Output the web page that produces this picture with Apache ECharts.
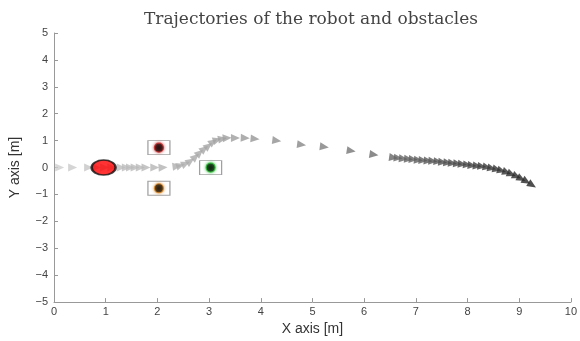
<!DOCTYPE html>
<html>
<head>
<meta charset="utf-8">
<script src="https://cdn.jsdelivr.net/npm/echarts@6/dist/echarts.min.js"></script>
<style>html,body{margin:0;padding:0;background:#fff}#c{width:580px;height:341px}</style>
</head>
<body>
<div id="c"></div>
<script>
const titleText = 'Trajectories of the robot and obstacles';
const xTicks = [0,1,2,3,4,5,6,7,8,9,10];
const yTicks = [-5,-4,-3,-2,-1,0,1,2,3,4,5];
// robot trajectory (x, y in metres)
const trajX = [0.11,0.36,0.67,0.82,0.98,1.12,1.30,1.40,1.48,1.57,1.67,1.78,1.95,2.11,2.38,2.45,2.55,2.64,2.74,2.82,2.91,2.99,3.08,3.16,3.26,3.35,3.51,3.70,3.89,4.31,4.79,5.23,5.75,6.19,
  6.57,6.66,6.76,6.86,6.95,7.05,7.14,7.24,7.33,7.43,7.52,7.62,7.71,7.81,7.90,8.00,8.09,8.19,8.28,8.38,8.47,8.57,8.66,8.76,8.85,8.95,9.04,9.14,9.25];
const trajY = [0,0,0,0,0,0,0,0,0,0,0,0,0,0,0.05,0.08,0.15,0.24,0.40,0.55,0.70,0.81,0.96,1.03,1.07,1.10,1.10,1.10,1.07,1.00,0.85,0.77,0.62,0.48,
  0.37,0.35,0.33,0.31,0.30,0.28,0.27,0.25,0.24,0.22,0.20,0.18,0.16,0.14,0.12,0.10,0.08,0.06,0.04,0.01,-0.03,-0.07,-0.12,-0.18,-0.25,-0.33,-0.42,-0.52,-0.65];
// robot position
const robotX = [0.96];
const robotY = [0];
// obstacles
const obsX = [2.03, 2.03, 3.03];
const obsY = [0.74, -0.77, 0];
const obsNames = ['obstacle 1', 'obstacle 2', 'obstacle 3'];

const chart = echarts.init(document.getElementById('c'), null, {renderer:'canvas'});
const trajData = trajX.map((x,i)=>[x, trajY[i]]);
const pxX = 52.2, pxY = 27.2;
function rot(i){
  const a = trajData[Math.max(0,i-1)], b = trajData[Math.min(trajData.length-1,i+1)];
  const ang = Math.atan2((b[1]-a[1])*pxY, (b[0]-a[0])*pxX)*180/Math.PI;
  return ang - 90;
}
const obsRing = ['#c83030', '#d98a2b', '#2fbf3a'];
const obsBoxData = obsX.map((x,i)=>({value:[x, obsY[i]], name: obsNames[i]}));
const obsDotData = obsX.map((x,i)=>({value:[x, obsY[i]], name: obsNames[i],
  itemStyle:{borderColor:obsRing[i], shadowColor:obsRing[i]}}));
const minus = v => String(v).replace('-', '\u2212');

chart.setOption({
  animation:false,
  title:{text:titleText,left:306,textAlign:'center',top:6,
    textStyle:{fontFamily:'DejaVu Serif',fontWeight:'normal',fontSize:17,color:'#444'}},
  grid:{left:50,right:8,top:33,bottom:36,containLabel:false},
  xAxis:{type:'value',min:0,max:10,interval:1,
    name:'X axis [m]',nameLocation:'middle',nameGap:18,
    nameTextStyle:{fontFamily:'Liberation Sans',fontSize:14,color:'#333'},
    axisLine:{onZero:false,lineStyle:{color:'#999',width:1}},
    axisTick:{inside:true,length:4,lineStyle:{color:'#999'}},
    axisLabel:{fontFamily:'Liberation Sans',fontSize:11,color:'#444',margin:4,formatter:v=>minus(v)},
    splitLine:{show:false}},
  yAxis:{type:'value',min:-5,max:5,interval:1,
    name:'Y axis [m]',nameLocation:'middle',nameGap:32,
    nameTextStyle:{fontFamily:'Liberation Sans',fontSize:14,color:'#333'},
    axisLine:{show:true,onZero:false,lineStyle:{color:'#999',width:1}},
    axisTick:{show:true,inside:true,length:4,lineStyle:{color:'#999'}},
    axisLabel:{fontFamily:'Liberation Sans',fontSize:11,color:'#444',margin:6,formatter:v=>minus(v)},
    splitLine:{show:false}},
  visualMap:{show:false,type:'continuous',seriesIndex:0,dimension:0,min:0,max:9.3,
    inRange:{color:['#cfcfcf','#b0b0b0','#8a8a8a','#606060','#222222']}},
  series:[
    {type:'scatter',name:'trajectory',data:trajData,symbol:'triangle',symbolSize:[8,9],
      symbolRotate:(v,p)=>rot(p.dataIndex),z:2},
    {type:'scatter',name:'obstacle box',data:obsBoxData,symbol:'rect',symbolSize:[22,14],
      itemStyle:{color:'#fff',borderColor:'#888',borderWidth:1},z:3},
    {type:'scatter',name:'obstacle',data:obsDotData,symbol:'circle',symbolSize:9,
      itemStyle:{color:'#000',borderWidth:1.2,shadowBlur:3},z:4},
    {type:'scatter',name:'robot',data:robotX.map((x,i)=>[x,robotY[i]]),symbol:'circle',symbolSize:[24,15],
      itemStyle:{color:'#ff0000',borderColor:'#111',borderWidth:2},z:5}
  ]
});
</script>
</body>
</html>
